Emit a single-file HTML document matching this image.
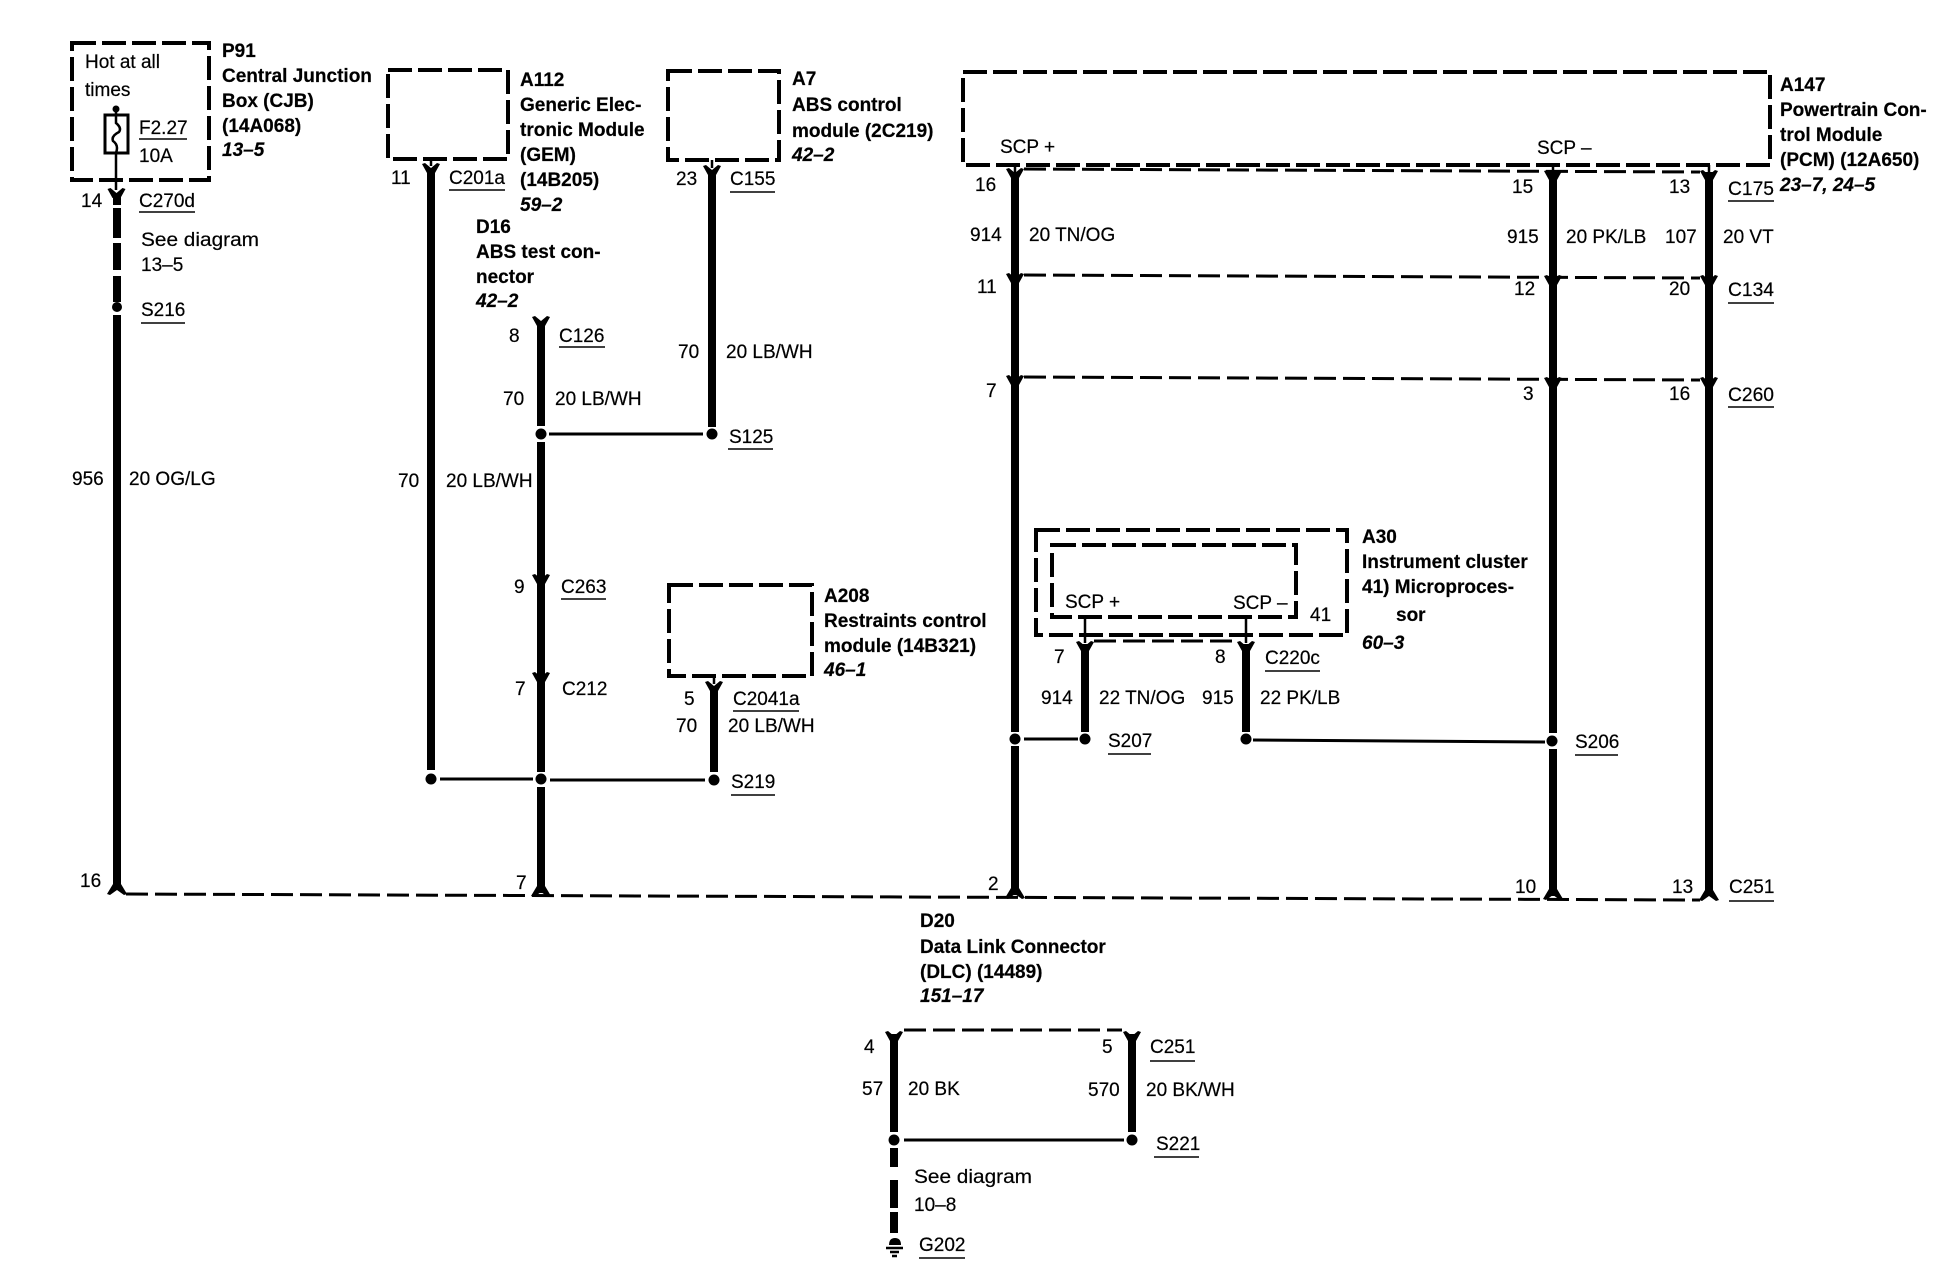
<!DOCTYPE html>
<html><head><meta charset="utf-8"><title>Wiring diagram</title>
<style>
html,body{margin:0;padding:0;background:#fff}
svg{display:block}
text{font-family:"Liberation Sans",sans-serif;font-size:19px;fill:#000;stroke:#000;stroke-width:.2}
.b{font-weight:bold}
.i{font-weight:bold;font-style:italic}
.box{fill:none;stroke:#000;stroke-width:4;stroke-dasharray:24 6}
.w{stroke:#000;stroke-width:8;fill:none}
.t{stroke:#000;stroke-width:3;fill:none}
.s{stroke:#000;stroke-width:2.5;fill:none}
.u{stroke:#000;stroke-width:1.6;fill:none}
.c{stroke:#000;stroke-width:3;fill:none;stroke-dasharray:22 7}
</style></head><body>
<svg xmlns="http://www.w3.org/2000/svg" width="1936" height="1280" viewBox="0 0 1936 1280">
<defs>
<polygon id="y" points="-9,-6 -6,-7 0,-2 6,-7 9,-6 4,3 -4,3"/>
<polygon id="a" points="-10,5 -7,6 0,1 7,6 10,5 4,-5 -4,-5"/>
</defs>
<rect width="1936" height="1280" fill="#fff"/>

<!-- module boxes -->
<rect class="box" x="72" y="43" width="137" height="137"/>
<rect class="box" x="388" y="70" width="120" height="89"/>
<rect class="box" x="668" y="71" width="111" height="89"/>
<rect class="box" x="963" y="72" width="807" height="93"/>
<rect class="box" x="669" y="585" width="143" height="91"/>
<rect class="box" x="1036" y="530" width="311" height="105"/>
<rect class="box" x="1052" y="545" width="244" height="72"/>

<!-- fuse -->
<circle cx="116" cy="109" r="3.5"/>
<path class="s" d="M116 109V115"/>
<rect x="105" y="115" width="23" height="38" fill="none" stroke="#000" stroke-width="3"/>
<path class="s" d="M116 153V190"/>
<path class="s" d="M116 115V123Q122 128 119 132Q111 136 113 141Q119 145 116 153"/>

<!-- wire 1 -->
<use href="#y" x="116.500" y="195"/>
<path class="w" d="M117 197V205M117 208V238M117 243V270M117 276V302M117 315V888"/>
<circle cx="117" cy="307" r="5"/>
<use href="#a" x="117" y="889"/>

<!-- A112 -->
<path class="s" d="M431 159V166"/>
<use href="#y" x="431" y="170"/>
<path class="w" d="M431 170V770"/>
<circle cx="431" cy="779" r="5.500"/>

<!-- D16 wire -->
<use href="#y" x="541" y="323"/>
<path class="w" d="M541 323V426M541 442V772M541 787V893"/>
<use href="#y" x="541" y="581"/>
<use href="#y" x="541" y="679"/>
<circle cx="541" cy="434" r="5.500"/>
<circle cx="541" cy="779" r="5.500"/>
<use href="#a" x="541" y="891"/>

<!-- A7 -->
<path class="s" d="M712 160V168"/>
<use href="#y" x="712" y="172"/>
<path class="w" d="M712 170V427"/>
<circle cx="712" cy="434" r="5.500"/>
<path class="t" d="M549 434H703"/>

<!-- A208 -->
<path class="s" d="M714 676V684"/>
<use href="#y" x="714" y="688"/>
<path class="w" d="M714 686V772"/>
<circle cx="714" cy="780" r="5.500"/>
<path class="t" d="M440 779H533M550 780H705"/>

<!-- PCM wires -->
<path class="s" d="M1015 165V172M1553 165V172M1709 165V172"/>
<path class="w" d="M1015 172V732M1015 746V895"/>
<path class="w" d="M1553 172V733M1553 749V896"/>
<path class="w" d="M1709 172V895"/>
<use href="#y" x="1015" y="175"/><use href="#y" x="1553" y="177"/><use href="#y" x="1709" y="177"/>
<use href="#y" x="1015" y="280"/><use href="#y" x="1553" y="282"/><use href="#y" x="1709" y="282"/>
<use href="#y" x="1015" y="382"/><use href="#y" x="1553" y="384"/><use href="#y" x="1709" y="384"/>
<path class="c" d="M1024 169L1700 172"/>
<path class="c" d="M1024 275L1700 278"/>
<path class="c" d="M1024 377L1700 380"/>
<circle cx="1015" cy="739" r="5.500"/>
<circle cx="1552" cy="741" r="5.500"/>

<!-- A30 wires -->
<path class="s" d="M1085 617V643M1246 617V643"/>
<path class="w" d="M1085 644V732M1246 644V732"/>
<use href="#y" x="1085" y="648"/><use href="#y" x="1246" y="648"/>
<path class="c" d="M1094 641H1238"/>
<circle cx="1085" cy="739" r="5.500"/>
<circle cx="1246" cy="739" r="5.500"/>
<path class="t" d="M1024 739H1078"/>
<path class="t" d="M1253 740L1545 742"/>

<!-- main bus -->
<path class="c" d="M126 894L1700 900"/>
<use href="#a" x="1015" y="893"/><use href="#a" x="1553" y="894"/><use href="#a" x="1709" y="895"/>

<!-- DLC -->
<path class="w" d="M894 1034V1132M1132 1034V1132"/>
<use href="#y" x="894" y="1038"/><use href="#y" x="1132" y="1038"/>
<path class="c" d="M904 1030H1122"/>
<circle cx="894" cy="1140" r="5.500"/>
<circle cx="1132" cy="1140" r="5.500"/>
<path class="t" d="M904 1140H1124"/>
<path class="w" d="M894 1148V1167M894 1180V1208M894 1212V1233"/>
<path d="M889 1245Q889 1238 895 1238Q901 1238 901 1245Z"/>
<path class="s" d="M886 1248H903M890 1252H899M892 1256H897"/>

<!-- underlines -->
<path class="u" d="M139 139H187M139 212H195M141 323H185M449 190H505M559 347H605M561 599H606M733 711H799M731 795H775M730 192H775M728 449H773M1728 201H1774M1728 303H1774M1728 407H1774M1265 671H1320M1108 754H1151M1575 755H1618M1729 901H1774M1150 1061H1195M1154 1157H1199M919 1258H965"/>

<!-- P91 -->
<text x="85" y="68">Hot at all</text>
<text x="85" y="96">times</text>
<text x="139" y="134">F2.27</text>
<text x="139" y="162">10A</text>
<text class="b" x="222" y="57">P91</text>
<text class="b" x="222" y="82">Central Junction</text>
<text class="b" x="222" y="107">Box (CJB)</text>
<text class="b" x="222" y="132">(14A068)</text>
<text class="i" x="222" y="156">13–5</text>
<text x="81" y="207">14</text>
<text x="139" y="207">C270d</text>
<text x="141" y="246" textLength="118" lengthAdjust="spacingAndGlyphs">See diagram</text>
<text x="141" y="271">13–5</text>
<text x="141" y="316">S216</text>
<text x="72" y="485">956</text>
<text x="129" y="485">20 OG/LG</text>
<text x="80" y="887">16</text>

<!-- A112 -->
<text class="b" x="520" y="86">A112</text>
<text class="b" x="520" y="111">Generic Elec-</text>
<text class="b" x="520" y="136">tronic Module</text>
<text class="b" x="520" y="161">(GEM)</text>
<text class="b" x="520" y="186">(14B205)</text>
<text class="i" x="520" y="211">59–2</text>
<text x="391" y="184">11</text>
<text x="449" y="184">C201a</text>
<text x="398" y="487">70</text>
<text x="446" y="487">20 LB/WH</text>

<!-- D16 -->
<text class="b" x="476" y="233">D16</text>
<text class="b" x="476" y="258">ABS test con-</text>
<text class="b" x="476" y="283">nector</text>
<text class="i" x="476" y="307">42–2</text>
<text x="509" y="342">8</text>
<text x="559" y="342">C126</text>
<text x="503" y="405">70</text>
<text x="555" y="405">20 LB/WH</text>
<text x="514" y="593">9</text>
<text x="561" y="593">C263</text>
<text x="515" y="695">7</text>
<text x="562" y="695">C212</text>
<text x="516" y="889">7</text>

<!-- A7 -->
<text class="b" x="792" y="85">A7</text>
<text class="b" x="792" y="111">ABS control</text>
<text class="b" x="792" y="137">module (2C219)</text>
<text class="i" x="792" y="161">42–2</text>
<text x="676" y="185">23</text>
<text x="730" y="185">C155</text>
<text x="678" y="358">70</text>
<text x="726" y="358">20 LB/WH</text>
<text x="729" y="443">S125</text>

<!-- A208 -->
<text class="b" x="824" y="602">A208</text>
<text class="b" x="824" y="627">Restraints control</text>
<text class="b" x="824" y="652">module (14B321)</text>
<text class="i" x="824" y="676">46–1</text>
<text x="684" y="705">5</text>
<text x="733" y="705">C2041a</text>
<text x="676" y="732">70</text>
<text x="728" y="732">20 LB/WH</text>
<text x="731" y="788">S219</text>

<!-- A147 -->
<text x="1000" y="153">SCP +</text>
<text x="1537" y="154">SCP –</text>
<text class="b" x="1780" y="91">A147</text>
<text class="b" x="1780" y="116">Powertrain Con-</text>
<text class="b" x="1780" y="141">trol Module</text>
<text class="b" x="1780" y="166">(PCM) (12A650)</text>
<text class="i" x="1780" y="191">23–7, 24–5</text>
<text x="975" y="191">16</text>
<text x="1512" y="193">15</text>
<text x="1669" y="193">13</text>
<text x="1728" y="195" textLength="46" lengthAdjust="spacingAndGlyphs">C175</text>
<text x="970" y="241">914</text>
<text x="1029" y="241">20 TN/OG</text>
<text x="1507" y="243">915</text>
<text x="1566" y="243">20 PK/LB</text>
<text x="1665" y="243">107</text>
<text x="1723" y="243">20 VT</text>
<text x="977" y="293">11</text>
<text x="1514" y="295">12</text>
<text x="1669" y="295">20</text>
<text x="1728" y="296" textLength="46" lengthAdjust="spacingAndGlyphs">C134</text>
<text x="986" y="397">7</text>
<text x="1523" y="400">3</text>
<text x="1669" y="400">16</text>
<text x="1728" y="401" textLength="46" lengthAdjust="spacingAndGlyphs">C260</text>

<!-- A30 -->
<text x="1065" y="608">SCP +</text>
<text x="1233" y="609">SCP –</text>
<text x="1310" y="621">41</text>
<text class="b" x="1362" y="543">A30</text>
<text class="b" x="1362" y="568">Instrument cluster</text>
<text class="b" x="1362" y="593">41) Microproces-</text>
<text class="b" x="1396" y="621">sor</text>
<text class="i" x="1362" y="649">60–3</text>
<text x="1054" y="663">7</text>
<text x="1215" y="663">8</text>
<text x="1265" y="664">C220c</text>
<text x="1041" y="704">914</text>
<text x="1099" y="704">22 TN/OG</text>
<text x="1202" y="704">915</text>
<text x="1260" y="704">22 PK/LB</text>
<text x="1108" y="747">S207</text>
<text x="1575" y="748">S206</text>

<!-- bus labels -->
<text x="988" y="890">2</text>
<text x="1515" y="893">10</text>
<text x="1672" y="893">13</text>
<text x="1729" y="893">C251</text>

<!-- D20 -->
<text class="b" x="920" y="927">D20</text>
<text class="b" x="920" y="953">Data Link Connector</text>
<text class="b" x="920" y="978">(DLC) (14489)</text>
<text class="i" x="920" y="1002">151–17</text>
<text x="864" y="1053">4</text>
<text x="1102" y="1053">5</text>
<text x="1150" y="1053">C251</text>
<text x="862" y="1095">57</text>
<text x="908" y="1095">20 BK</text>
<text x="1088" y="1096">570</text>
<text x="1146" y="1096">20 BK/WH</text>
<text x="1156" y="1150">S221</text>
<text x="914" y="1183" textLength="118" lengthAdjust="spacingAndGlyphs">See diagram</text>
<text x="914" y="1211">10–8</text>
<text x="919" y="1251">G202</text>
</svg>
</body></html>
